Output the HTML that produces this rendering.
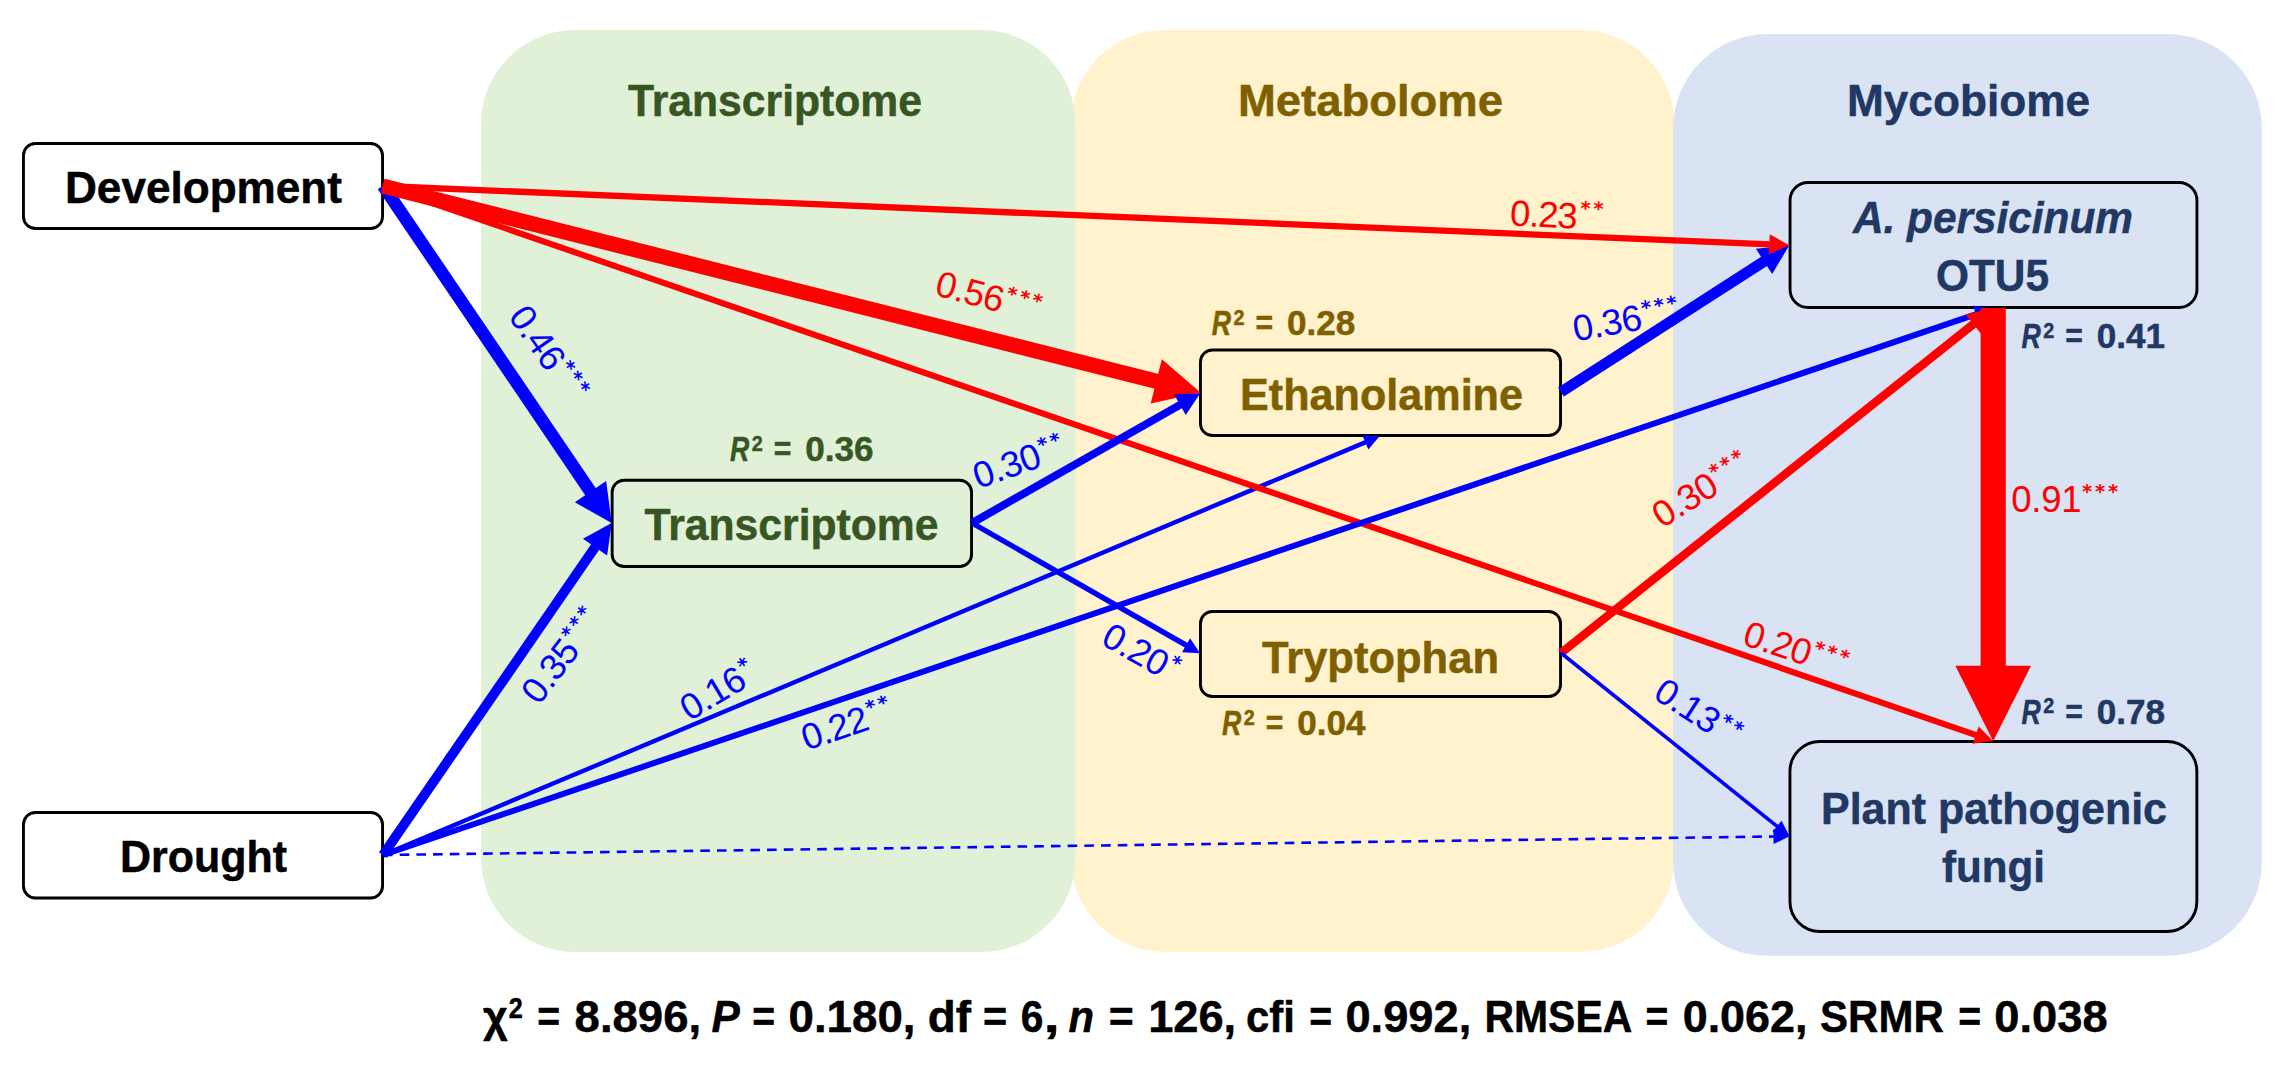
<!DOCTYPE html>
<html lang="en">
<head>
<meta charset="utf-8">
<title>Structural equation model: development, drought, transcriptome, metabolome and mycobiome</title>
<style>
html,body{margin:0;padding:0;background:#fff;}
body{width:2296px;height:1078px;overflow:hidden;}
svg{display:block;font-family:'Liberation Sans', sans-serif;}
svg text{white-space:pre;}
</style>
</head>
<body>
<svg width="2296" height="1078" viewBox="0 0 2296 1078">
<rect width="2296" height="1078" fill="#fff"/>
<rect x="1070.7" y="30" width="603.5" height="922" rx="94" ry="94" fill="#FFF2CC"/>
<rect x="481" y="30" width="594.5" height="922" rx="94" ry="94" fill="#E0F1D8"/>
<rect x="1673.2" y="34.1" width="588.6" height="921.7" rx="94" ry="94" fill="#DAE3F3"/>
<text x="628" y="116.4" font-size="45" font-weight="bold" font-style="normal" fill="#375623" stroke="#375623" stroke-width="0.5" stroke-linejoin="round" textLength="294" lengthAdjust="spacingAndGlyphs">Transcriptome</text>
<text x="1238" y="116.4" font-size="45" font-weight="bold" font-style="normal" fill="#7F6000" stroke="#7F6000" stroke-width="0.5" stroke-linejoin="round" textLength="265" lengthAdjust="spacingAndGlyphs">Metabolome</text>
<text x="1847" y="116.4" font-size="45" font-weight="bold" font-style="normal" fill="#1F3864" stroke="#1F3864" stroke-width="0.5" stroke-linejoin="round" textLength="243" lengthAdjust="spacingAndGlyphs">Mycobiome</text>
<rect x="23.45" y="143.45" width="359.1" height="85.1" rx="12" ry="12" fill="#FFFFFF" stroke="#000" stroke-width="2.9"/>
<rect x="23.45" y="812.45" width="359.1" height="85.6" rx="12" ry="12" fill="#FFFFFF" stroke="#000" stroke-width="2.9"/>
<rect x="612.15" y="480.25" width="359.4" height="86.3" rx="12" ry="12" fill="#E0F1D8" stroke="#000" stroke-width="2.9"/>
<rect x="1200.45" y="349.95" width="360.1" height="85.6" rx="12" ry="12" fill="#FFF2CC" stroke="#000" stroke-width="2.9"/>
<rect x="1200.45" y="611.45" width="360.1" height="85.1" rx="12" ry="12" fill="#FFF2CC" stroke="#000" stroke-width="2.9"/>
<rect x="1790.05" y="182.45" width="406.9" height="125.1" rx="18" ry="18" fill="#DAE3F3" stroke="#000" stroke-width="2.9"/>
<rect x="1789.95" y="741.45" width="406.9" height="190.1" rx="30" ry="30" fill="#DAE3F3" stroke="#000" stroke-width="2.9"/>
<line x1="383" y1="185.6" x2="590.77" y2="492.12" stroke="#0000FF" stroke-width="12.6"/>
<polygon points="611.7,523 574.85,502.32 606.14,481.11" fill="#0000FF"/>
<line x1="383" y1="855" x2="595.31" y2="546.8" stroke="#0000FF" stroke-width="9.8"/>
<polygon points="611.7,523 607.13,555.55 582.92,538.87" fill="#0000FF"/>
<line x1="383" y1="855" x2="1365.77" y2="442.11" stroke="#0000FF" stroke-width="4.4"/>
<polygon points="1379.6,436.3 1368.31,449.45 1362.31,435.16" fill="#0000FF"/>
<line x1="1561" y1="392" x2="1764.49" y2="261.16" stroke="#0000FF" stroke-width="10.8"/>
<polygon points="1789.3,245.2 1772.18,274.04 1755.95,248.81" fill="#0000FF"/>
<line x1="383" y1="855" x2="1774" y2="836.51" stroke="#0000FF" stroke-width="2.6" stroke-dasharray="9.6 7.1"/>
<polygon points="1789.5,836.3 1773.6,844.01 1773.4,829.01" fill="#0000FF"/>
<line x1="382.7" y1="186" x2="1976.17" y2="735.2" stroke="#FF0000" stroke-width="6.1"/>
<polygon points="1993,741 1972.72,743.69 1978.68,726.39" fill="#FF0000"/>
<line x1="382.7" y1="186" x2="1769.82" y2="244.38" stroke="#FF0000" stroke-width="6.3"/>
<polygon points="1789.3,245.2 1768.9,254.35 1769.74,234.37" fill="#FF0000"/>
<line x1="382.7" y1="186" x2="1156.77" y2="381.46" stroke="#FF0000" stroke-width="15.2"/>
<polygon points="1200.5,392.5 1150.71,403.44 1161.87,359.23" fill="#FF0000"/>
<line x1="383" y1="855" x2="1976.43" y2="314.12" stroke="#0000FF" stroke-width="6"/>
<polygon points="1993,308.5 1978.85,322.81 1973.06,305.76" fill="#0000FF"/>
<line x1="1561" y1="653" x2="1973.69" y2="323.9" stroke="#FF0000" stroke-width="8.4"/>
<polygon points="1993,308.5 1981.15,334.06 1965.44,314.36" fill="#FF0000"/>
<line x1="972" y1="523" x2="1180.39" y2="404.52" stroke="#0000FF" stroke-width="7.8"/>
<polygon points="1200.3,393.2 1185.74,414.94 1174.18,394.59" fill="#0000FF"/>
<line x1="972" y1="523" x2="1186.46" y2="645.42" stroke="#0000FF" stroke-width="5.4"/>
<polygon points="1200.1,653.2 1182.02,652.2 1190.05,638.13" fill="#0000FF"/>
<line x1="1561" y1="653" x2="1777.41" y2="826.6" stroke="#0000FF" stroke-width="3.6"/>
<polygon points="1789.5,836.3 1772.48,831.94 1781.56,820.63" fill="#0000FF"/>
<line x1="1993.2" y1="308" x2="1993.2" y2="666.2" stroke="#FF0000" stroke-width="25.2"/>
<polygon points="1993.2,741.3 1955.4,665.7 2031,665.7" fill="#FF0000"/>
<text x="65" y="203" font-size="45" font-weight="bold" font-style="normal" fill="#000" stroke="#000" stroke-width="0.5" stroke-linejoin="round" textLength="277" lengthAdjust="spacingAndGlyphs">Development</text>
<text x="120" y="871.9" font-size="45" font-weight="bold" font-style="normal" fill="#000" stroke="#000" stroke-width="0.5" stroke-linejoin="round" textLength="167" lengthAdjust="spacingAndGlyphs">Drought</text>
<text x="644.5" y="540" font-size="45" font-weight="bold" font-style="normal" fill="#375623" stroke="#375623" stroke-width="0.5" stroke-linejoin="round" textLength="294" lengthAdjust="spacingAndGlyphs">Transcriptome</text>
<text x="1240" y="409.5" font-size="45" font-weight="bold" font-style="normal" fill="#7F6000" stroke="#7F6000" stroke-width="0.5" stroke-linejoin="round" textLength="283" lengthAdjust="spacingAndGlyphs">Ethanolamine</text>
<text x="1262" y="672.5" font-size="45" font-weight="bold" font-style="normal" fill="#7F6000" stroke="#7F6000" stroke-width="0.5" stroke-linejoin="round" textLength="237" lengthAdjust="spacingAndGlyphs">Tryptophan</text>
<text x="1853" y="233" font-size="45" font-weight="bold" font-style="italic" fill="#1F3864" stroke="#1F3864" stroke-width="0.5" stroke-linejoin="round" textLength="280" lengthAdjust="spacingAndGlyphs">A. persicinum</text>
<text x="1936" y="290.5" font-size="45" font-weight="bold" font-style="normal" fill="#1F3864" stroke="#1F3864" stroke-width="0.5" stroke-linejoin="round" textLength="113" lengthAdjust="spacingAndGlyphs">OTU5</text>
<text x="1821" y="824.2" font-size="45" font-weight="bold" font-style="normal" fill="#1F3864" stroke="#1F3864" stroke-width="0.5" stroke-linejoin="round" textLength="346" lengthAdjust="spacingAndGlyphs">Plant pathogenic</text>
<text x="1942" y="882.2" font-size="45" font-weight="bold" font-style="normal" fill="#1F3864" stroke="#1F3864" stroke-width="0.5" stroke-linejoin="round" textLength="103" lengthAdjust="spacingAndGlyphs">fungi</text>
<text transform="translate(507.54 317.28) rotate(55)" fill="#0000FF"><tspan x="-0.7" y="-0.4" font-size="36.5" textLength="69.4" lengthAdjust="spacing">0.46</tspan><tspan x="70.03" y="-14.36" font-family="'DejaVu Sans', sans-serif" font-weight="bold" font-size="19.5">*</tspan><tspan x="83.03" y="-14.36" font-family="'DejaVu Sans', sans-serif" font-weight="bold" font-size="19.5">*</tspan><tspan x="96.03" y="-14.36" font-family="'DejaVu Sans', sans-serif" font-weight="bold" font-size="19.5">*</tspan></text>
<text transform="translate(933.99 295.34) rotate(15)" fill="#FF0000"><tspan x="-0.7" y="-0.4" font-size="36.5" textLength="69.4" lengthAdjust="spacing">0.56</tspan><tspan x="70.03" y="-14.36" font-family="'DejaVu Sans', sans-serif" font-weight="bold" font-size="19.5">*</tspan><tspan x="83.03" y="-14.36" font-family="'DejaVu Sans', sans-serif" font-weight="bold" font-size="19.5">*</tspan><tspan x="96.03" y="-14.36" font-family="'DejaVu Sans', sans-serif" font-weight="bold" font-size="19.5">*</tspan></text>
<text transform="translate(1510.26 225.91) rotate(2.8)" fill="#FF0000"><tspan x="-0.7" y="-0.4" font-size="36.5" textLength="67.6" lengthAdjust="spacing">0.23</tspan><tspan x="69.23" y="-14.36" font-family="'DejaVu Sans', sans-serif" font-weight="bold" font-size="19.5">*</tspan><tspan x="82.23" y="-14.36" font-family="'DejaVu Sans', sans-serif" font-weight="bold" font-size="19.5">*</tspan></text>
<text transform="translate(1576.11 341.81) rotate(-10.2)" fill="#0000FF"><tspan x="-0.7" y="-0.4" font-size="36.5" textLength="69.4" lengthAdjust="spacing">0.36</tspan><tspan x="70.03" y="-14.36" font-family="'DejaVu Sans', sans-serif" font-weight="bold" font-size="19.5">*</tspan><tspan x="83.03" y="-14.36" font-family="'DejaVu Sans', sans-serif" font-weight="bold" font-size="19.5">*</tspan><tspan x="96.03" y="-14.36" font-family="'DejaVu Sans', sans-serif" font-weight="bold" font-size="19.5">*</tspan></text>
<text transform="translate(979.04 489.16) rotate(-19.3)" fill="#0000FF"><tspan x="-0.7" y="-0.4" font-size="36.5" textLength="69.4" lengthAdjust="spacing">0.30</tspan><tspan x="70.03" y="-14.36" font-family="'DejaVu Sans', sans-serif" font-weight="bold" font-size="19.5">*</tspan><tspan x="83.03" y="-14.36" font-family="'DejaVu Sans', sans-serif" font-weight="bold" font-size="19.5">*</tspan></text>
<text transform="translate(539.67 705.58) rotate(-52.6)" fill="#0000FF"><tspan x="-0.7" y="-0.4" font-size="36.5" textLength="69.4" lengthAdjust="spacing">0.35</tspan><tspan x="70.03" y="-14.36" font-family="'DejaVu Sans', sans-serif" font-weight="bold" font-size="19.5">*</tspan><tspan x="83.03" y="-14.36" font-family="'DejaVu Sans', sans-serif" font-weight="bold" font-size="19.5">*</tspan><tspan x="96.03" y="-14.36" font-family="'DejaVu Sans', sans-serif" font-weight="bold" font-size="19.5">*</tspan></text>
<text transform="translate(690.24 721.7) rotate(-31)" fill="#0000FF"><tspan x="-0.7" y="-0.4" font-size="36.5" textLength="69.4" lengthAdjust="spacing">0.16</tspan><tspan x="70.03" y="-14.36" font-family="'DejaVu Sans', sans-serif" font-weight="bold" font-size="19.5">*</tspan></text>
<text transform="translate(807.4 751.02) rotate(-18.8)" fill="#0000FF"><tspan x="-0.7" y="-0.4" font-size="36.5" textLength="68.2" lengthAdjust="spacing">0.22</tspan><tspan x="69.23" y="-14.36" font-family="'DejaVu Sans', sans-serif" font-weight="bold" font-size="19.5">*</tspan><tspan x="82.23" y="-14.36" font-family="'DejaVu Sans', sans-serif" font-weight="bold" font-size="19.5">*</tspan></text>
<text transform="translate(1100.01 644.2) rotate(29.5)" fill="#0000FF"><tspan x="-0.7" y="-0.4" font-size="36.5" textLength="69.4" lengthAdjust="spacing">0.20</tspan><tspan x="70.03" y="-14.36" font-family="'DejaVu Sans', sans-serif" font-weight="bold" font-size="19.5">*</tspan></text>
<text transform="translate(1662.82 528.62) rotate(-32)" fill="#FF0000"><tspan x="-0.7" y="-0.4" font-size="36.5" textLength="69.4" lengthAdjust="spacing">0.30</tspan><tspan x="70.03" y="-14.36" font-family="'DejaVu Sans', sans-serif" font-weight="bold" font-size="19.5">*</tspan><tspan x="83.03" y="-14.36" font-family="'DejaVu Sans', sans-serif" font-weight="bold" font-size="19.5">*</tspan><tspan x="96.03" y="-14.36" font-family="'DejaVu Sans', sans-serif" font-weight="bold" font-size="19.5">*</tspan></text>
<text transform="translate(2011.9 512.6) rotate(0)" fill="#FF0000"><tspan x="-0.7" y="-0.4" font-size="36.5" textLength="70.4" lengthAdjust="spacing">0.91</tspan><tspan x="70.03" y="-14.36" font-family="'DejaVu Sans', sans-serif" font-weight="bold" font-size="19.5">*</tspan><tspan x="83.03" y="-14.36" font-family="'DejaVu Sans', sans-serif" font-weight="bold" font-size="19.5">*</tspan><tspan x="96.03" y="-14.36" font-family="'DejaVu Sans', sans-serif" font-weight="bold" font-size="19.5">*</tspan></text>
<text transform="translate(1741.58 644.83) rotate(18.5)" fill="#FF0000"><tspan x="-0.7" y="-0.4" font-size="36.5" textLength="69.4" lengthAdjust="spacing">0.20</tspan><tspan x="70.03" y="-14.36" font-family="'DejaVu Sans', sans-serif" font-weight="bold" font-size="19.5">*</tspan><tspan x="83.03" y="-14.36" font-family="'DejaVu Sans', sans-serif" font-weight="bold" font-size="19.5">*</tspan><tspan x="96.03" y="-14.36" font-family="'DejaVu Sans', sans-serif" font-weight="bold" font-size="19.5">*</tspan></text>
<text transform="translate(1652.12 698.17) rotate(33)" fill="#0000FF"><tspan x="-0.7" y="-0.4" font-size="36.5" textLength="69.4" lengthAdjust="spacing">0.13</tspan><tspan x="70.03" y="-14.36" font-family="'DejaVu Sans', sans-serif" font-weight="bold" font-size="19.5">*</tspan><tspan x="83.03" y="-14.36" font-family="'DejaVu Sans', sans-serif" font-weight="bold" font-size="19.5">*</tspan></text>
<text x="730.1" y="461.3" font-size="34.5" font-weight="bold" font-style="italic" fill="#375623" stroke="#375623" stroke-width="0.5" stroke-linejoin="round" textLength="19.3" lengthAdjust="spacingAndGlyphs">R</text>
<text x="751.8" y="450.8" font-size="21.5" font-weight="bold" font-style="normal" fill="#375623" stroke="#375623" stroke-width="0.5" stroke-linejoin="round" textLength="11" lengthAdjust="spacingAndGlyphs">2</text>
<text x="773.7" y="461.3" font-size="34.5" font-weight="bold" font-style="normal" fill="#375623" stroke="#375623" stroke-width="0.5" stroke-linejoin="round" textLength="17.6" lengthAdjust="spacingAndGlyphs">=</text>
<text x="805.3" y="461.3" font-size="34.5" font-weight="bold" font-style="normal" fill="#375623" stroke="#375623" stroke-width="0.5" stroke-linejoin="round" textLength="68.3" lengthAdjust="spacingAndGlyphs">0.36</text>
<text x="1211.8" y="335.3" font-size="34.5" font-weight="bold" font-style="italic" fill="#7F6000" stroke="#7F6000" stroke-width="0.5" stroke-linejoin="round" textLength="19.3" lengthAdjust="spacingAndGlyphs">R</text>
<text x="1233.5" y="324.8" font-size="21.5" font-weight="bold" font-style="normal" fill="#7F6000" stroke="#7F6000" stroke-width="0.5" stroke-linejoin="round" textLength="11" lengthAdjust="spacingAndGlyphs">2</text>
<text x="1255.4" y="335.3" font-size="34.5" font-weight="bold" font-style="normal" fill="#7F6000" stroke="#7F6000" stroke-width="0.5" stroke-linejoin="round" textLength="17.6" lengthAdjust="spacingAndGlyphs">=</text>
<text x="1287" y="335.3" font-size="34.5" font-weight="bold" font-style="normal" fill="#7F6000" stroke="#7F6000" stroke-width="0.5" stroke-linejoin="round" textLength="68.3" lengthAdjust="spacingAndGlyphs">0.28</text>
<text x="1222.1" y="735.3" font-size="34.5" font-weight="bold" font-style="italic" fill="#7F6000" stroke="#7F6000" stroke-width="0.5" stroke-linejoin="round" textLength="19.3" lengthAdjust="spacingAndGlyphs">R</text>
<text x="1243.8" y="724.8" font-size="21.5" font-weight="bold" font-style="normal" fill="#7F6000" stroke="#7F6000" stroke-width="0.5" stroke-linejoin="round" textLength="11" lengthAdjust="spacingAndGlyphs">2</text>
<text x="1265.7" y="735.3" font-size="34.5" font-weight="bold" font-style="normal" fill="#7F6000" stroke="#7F6000" stroke-width="0.5" stroke-linejoin="round" textLength="17.6" lengthAdjust="spacingAndGlyphs">=</text>
<text x="1297.3" y="735.3" font-size="34.5" font-weight="bold" font-style="normal" fill="#7F6000" stroke="#7F6000" stroke-width="0.5" stroke-linejoin="round" textLength="68.3" lengthAdjust="spacingAndGlyphs">0.04</text>
<text x="2021.6" y="348.2" font-size="34.5" font-weight="bold" font-style="italic" fill="#1F3864" stroke="#1F3864" stroke-width="0.5" stroke-linejoin="round" textLength="19.3" lengthAdjust="spacingAndGlyphs">R</text>
<text x="2043.3" y="337.7" font-size="21.5" font-weight="bold" font-style="normal" fill="#1F3864" stroke="#1F3864" stroke-width="0.5" stroke-linejoin="round" textLength="11" lengthAdjust="spacingAndGlyphs">2</text>
<text x="2065.2" y="348.2" font-size="34.5" font-weight="bold" font-style="normal" fill="#1F3864" stroke="#1F3864" stroke-width="0.5" stroke-linejoin="round" textLength="17.6" lengthAdjust="spacingAndGlyphs">=</text>
<text x="2096.8" y="348.2" font-size="34.5" font-weight="bold" font-style="normal" fill="#1F3864" stroke="#1F3864" stroke-width="0.5" stroke-linejoin="round" textLength="68.3" lengthAdjust="spacingAndGlyphs">0.41</text>
<text x="2021.6" y="723.5" font-size="34.5" font-weight="bold" font-style="italic" fill="#1F3864" stroke="#1F3864" stroke-width="0.5" stroke-linejoin="round" textLength="19.3" lengthAdjust="spacingAndGlyphs">R</text>
<text x="2043.3" y="713" font-size="21.5" font-weight="bold" font-style="normal" fill="#1F3864" stroke="#1F3864" stroke-width="0.5" stroke-linejoin="round" textLength="11" lengthAdjust="spacingAndGlyphs">2</text>
<text x="2065.2" y="723.5" font-size="34.5" font-weight="bold" font-style="normal" fill="#1F3864" stroke="#1F3864" stroke-width="0.5" stroke-linejoin="round" textLength="17.6" lengthAdjust="spacingAndGlyphs">=</text>
<text x="2096.8" y="723.5" font-size="34.5" font-weight="bold" font-style="normal" fill="#1F3864" stroke="#1F3864" stroke-width="0.5" stroke-linejoin="round" textLength="68.3" lengthAdjust="spacingAndGlyphs">0.78</text>
<text x="483" y="1032" font-size="45" font-weight="bold" font-style="normal" fill="#000" stroke="#000" stroke-width="0.5" stroke-linejoin="round" textLength="24.7" lengthAdjust="spacingAndGlyphs">χ</text>
<text x="508.7" y="1017.5" font-size="29.5" font-weight="bold" font-style="normal" fill="#000" stroke="#000" stroke-width="0.5" stroke-linejoin="round" textLength="14" lengthAdjust="spacingAndGlyphs">2</text>
<text x="537.2" y="1032" font-size="45" font-weight="bold" font-style="normal" fill="#000" stroke="#000" stroke-width="0.5" stroke-linejoin="round" textLength="22.9" lengthAdjust="spacingAndGlyphs">=</text>
<text x="574.6" y="1032" font-size="45" font-weight="bold" font-style="normal" fill="#000" stroke="#000" stroke-width="0.5" stroke-linejoin="round" textLength="126.5" lengthAdjust="spacingAndGlyphs">8.896,</text>
<text x="711.5" y="1032" font-size="45" font-weight="bold" font-style="italic" fill="#000" stroke="#000" stroke-width="0.5" stroke-linejoin="round" textLength="28.3" lengthAdjust="spacingAndGlyphs">P</text>
<text x="752.3" y="1032" font-size="45" font-weight="bold" font-style="normal" fill="#000" stroke="#000" stroke-width="0.5" stroke-linejoin="round" textLength="22.9" lengthAdjust="spacingAndGlyphs">=</text>
<text x="788.5" y="1032" font-size="45" font-weight="bold" font-style="normal" fill="#000" stroke="#000" stroke-width="0.5" stroke-linejoin="round" textLength="127" lengthAdjust="spacingAndGlyphs">0.180,</text>
<text x="927.8" y="1032" font-size="45" font-weight="bold" font-style="normal" fill="#000" stroke="#000" stroke-width="0.5" stroke-linejoin="round" textLength="43.3" lengthAdjust="spacingAndGlyphs">df</text>
<text x="983" y="1032" font-size="45" font-weight="bold" font-style="normal" fill="#000" stroke="#000" stroke-width="0.5" stroke-linejoin="round" textLength="24.2" lengthAdjust="spacingAndGlyphs">=</text>
<text x="1020.7" y="1032" font-size="45" font-weight="bold" font-style="normal" fill="#000" stroke="#000" stroke-width="0.5" stroke-linejoin="round" textLength="22.6" lengthAdjust="spacingAndGlyphs">6</text>
<text x="1043.8" y="1032" font-size="45" font-weight="bold" font-style="normal" fill="#000" stroke="#000" stroke-width="0.5" stroke-linejoin="round" textLength="16" lengthAdjust="spacingAndGlyphs">,</text>
<text x="1068.5" y="1032" font-size="45" font-weight="bold" font-style="italic" fill="#000" stroke="#000" stroke-width="0.5" stroke-linejoin="round" textLength="25.5" lengthAdjust="spacingAndGlyphs">n</text>
<text x="1108.8" y="1032" font-size="45" font-weight="bold" font-style="normal" fill="#000" stroke="#000" stroke-width="0.5" stroke-linejoin="round" textLength="25" lengthAdjust="spacingAndGlyphs">=</text>
<text x="1148.2" y="1032" font-size="45" font-weight="bold" font-style="normal" fill="#000" stroke="#000" stroke-width="0.5" stroke-linejoin="round" textLength="88" lengthAdjust="spacingAndGlyphs">126,</text>
<text x="1246" y="1032" font-size="45" font-weight="bold" font-style="normal" fill="#000" stroke="#000" stroke-width="0.5" stroke-linejoin="round" textLength="48.8" lengthAdjust="spacingAndGlyphs">cfi</text>
<text x="1309.2" y="1032" font-size="45" font-weight="bold" font-style="normal" fill="#000" stroke="#000" stroke-width="0.5" stroke-linejoin="round" textLength="22.9" lengthAdjust="spacingAndGlyphs">=</text>
<text x="1345.4" y="1032" font-size="45" font-weight="bold" font-style="normal" fill="#000" stroke="#000" stroke-width="0.5" stroke-linejoin="round" textLength="125.9" lengthAdjust="spacingAndGlyphs">0.992,</text>
<text x="1484.5" y="1032" font-size="45" font-weight="bold" font-style="normal" fill="#000" stroke="#000" stroke-width="0.5" stroke-linejoin="round" textLength="147.7" lengthAdjust="spacingAndGlyphs">RMSEA</text>
<text x="1645.5" y="1032" font-size="45" font-weight="bold" font-style="normal" fill="#000" stroke="#000" stroke-width="0.5" stroke-linejoin="round" textLength="22.8" lengthAdjust="spacingAndGlyphs">=</text>
<text x="1682.7" y="1032" font-size="45" font-weight="bold" font-style="normal" fill="#000" stroke="#000" stroke-width="0.5" stroke-linejoin="round" textLength="124.8" lengthAdjust="spacingAndGlyphs">0.062,</text>
<text x="1820.1" y="1032" font-size="45" font-weight="bold" font-style="normal" fill="#000" stroke="#000" stroke-width="0.5" stroke-linejoin="round" textLength="123.7" lengthAdjust="spacingAndGlyphs">SRMR</text>
<text x="1958.2" y="1032" font-size="45" font-weight="bold" font-style="normal" fill="#000" stroke="#000" stroke-width="0.5" stroke-linejoin="round" textLength="22.9" lengthAdjust="spacingAndGlyphs">=</text>
<text x="1994.3" y="1032" font-size="45" font-weight="bold" font-style="normal" fill="#000" stroke="#000" stroke-width="0.5" stroke-linejoin="round" textLength="113.3" lengthAdjust="spacingAndGlyphs">0.038</text>
</svg>
</body>
</html>
